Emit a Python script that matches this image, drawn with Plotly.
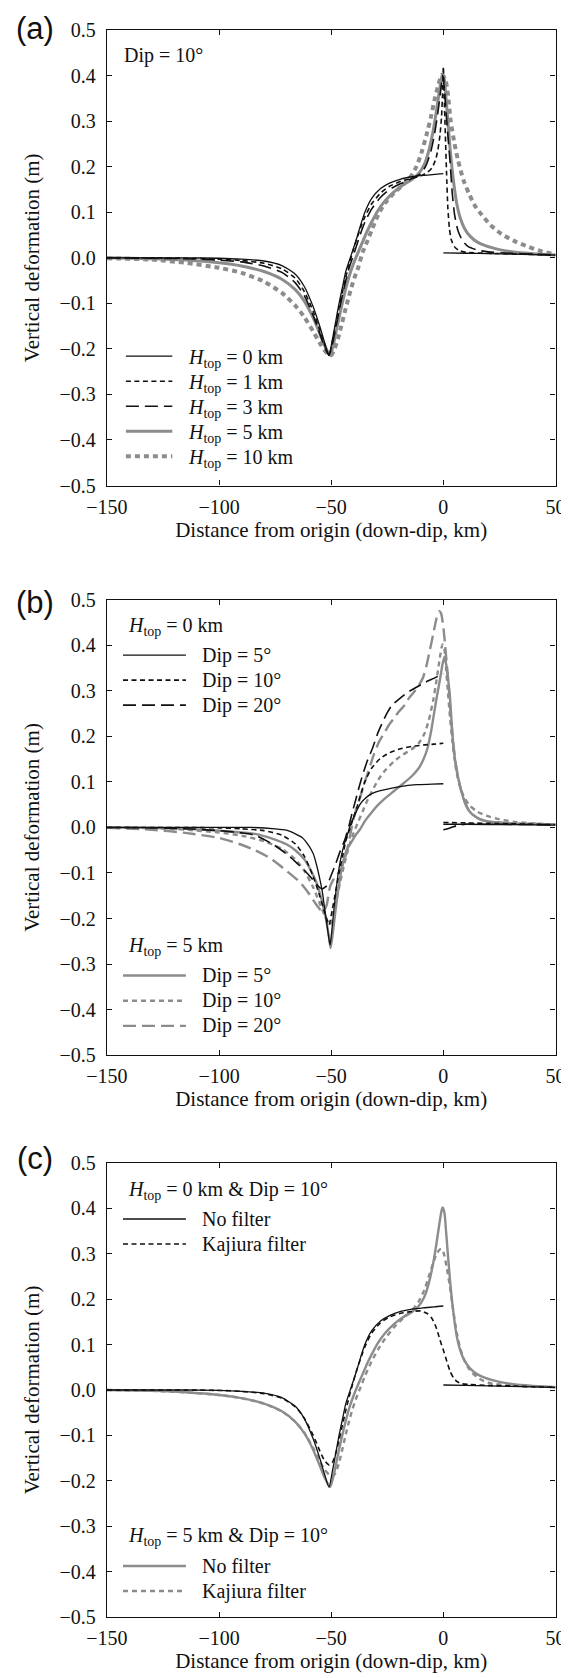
import plotly.graph_objects as go

# ---------------- DATA ----------------
# Panel (a): Dip = 10 deg, various H_top
a_h0_x = [-150, -130, -115, -100, -90, -80, -72, -66, -62, -58, -55, -53, -51, -49.5, -48, -46.5, -45, -43.5, -41.5, -40, -38.5, -37, -35, -32, -28, -24, -19, -14, -9, -4, 0]
a_h0_y = [0, 0, 0, -0.001, -0.003, -0.007, -0.017, -0.036, -0.063, -0.108, -0.152, -0.185, -0.214, -0.18, -0.14, -0.1, -0.065, -0.03, 0.0, 0.022, 0.045, 0.07, 0.1, 0.13, 0.152, 0.164, 0.173, 0.178, 0.181, 0.183, 0.185]
a_h0_xr = [0, 10, 20, 30, 40, 50]
a_h0_yr = [0.011, 0.010, 0.009, 0.008, 0.007, 0.006]

a_h1_x = [-150, -130, -115, -100, -90, -80, -72, -66, -62, -58, -55, -53, -51, -49.5, -48, -46.5, -45, -43.5, -42, -40.5, -39, -37, -35, -32, -28, -24, -19, -14, -10, -7, -5, -3.5, -2.5, -1.5, -0.8, -0.3, 0, 0.4, 0.9, 1.4, 2, 2.7, 3.5, 5, 7, 10, 20, 35, 50]
a_h1_y = [0, 0, -0.001, -0.003, -0.006, -0.012, -0.024, -0.045, -0.074, -0.118, -0.16, -0.19, -0.214, -0.185, -0.148, -0.11, -0.075, -0.042, -0.015, 0.012, 0.035, 0.065, 0.09, 0.118, 0.142, 0.157, 0.168, 0.175, 0.18, 0.188, 0.198, 0.215, 0.235, 0.27, 0.31, 0.37, 0.42, 0.35, 0.27, 0.19, 0.11, 0.065, 0.04, 0.024, 0.016, 0.012, 0.01, 0.008, 0.006]

a_h3_x = [-150, -130, -115, -100, -90, -80, -72, -66, -62, -58, -55, -53, -51, -49.5, -48, -46.5, -45, -43.5, -42, -40.5, -39, -37, -35, -32, -28, -24, -19, -14, -10, -7.5, -5.5, -4, -3, -2, -1, -0.3, 0.5, 1.2, 2, 3, 4, 5, 6.5, 8.5, 11, 15, 20, 30, 40, 50]
a_h3_y = [0, -0.001, -0.002, -0.005, -0.009, -0.018, -0.032, -0.055, -0.083, -0.127, -0.168, -0.195, -0.214, -0.19, -0.155, -0.117, -0.082, -0.05, -0.022, 0.0, 0.022, 0.052, 0.078, 0.107, 0.133, 0.15, 0.163, 0.174, 0.185, 0.205, 0.235, 0.27, 0.3, 0.335, 0.375, 0.4, 0.37, 0.32, 0.27, 0.21, 0.14, 0.095, 0.06, 0.038, 0.025, 0.017, 0.013, 0.01, 0.008, 0.006]

a_h5_x = [-150, -130, -115, -100, -90, -80, -72, -66, -62, -58, -55, -53, -50.5, -49, -47.5, -46, -44.5, -43, -41.5, -40, -38, -36, -34, -32, -29, -26, -22, -18, -14, -11, -8.5, -6.5, -4.5, -3, -1.8, -0.8, -0.3, 0.5, 1.2, 2, 3, 4, 5, 6, 7.5, 9.5, 12, 15, 19, 25, 32, 40, 50]
a_h5_y = [0, -0.002, -0.005, -0.011, -0.018, -0.03, -0.047, -0.07, -0.095, -0.132, -0.168, -0.192, -0.214, -0.19, -0.155, -0.12, -0.088, -0.058, -0.033, -0.012, 0.012, 0.035, 0.058, 0.078, 0.105, 0.125, 0.145, 0.16, 0.172, 0.185, 0.205, 0.235, 0.28, 0.325, 0.365, 0.395, 0.402, 0.39, 0.35, 0.3, 0.24, 0.19, 0.15, 0.118, 0.088, 0.064, 0.047, 0.035, 0.026, 0.018, 0.012, 0.009, 0.006]

a_h10_x = [-150, -130, -115, -100, -90, -80, -72, -66, -62, -58, -55, -53, -51, -50, -48.5, -47, -45.5, -44, -42.5, -41, -39.5, -38, -36, -34, -32, -29, -26, -22, -18, -15, -12, -9.5, -7.5, -5.5, -4, -2.5, -1.3, -0.5, 1, 2, 3.3, 5, 6.5, 9, 11.5, 14, 17, 21, 26, 32, 38, 44, 50]
a_h10_y = [-0.001, -0.004, -0.011, -0.022, -0.033, -0.052, -0.077, -0.105, -0.13, -0.162, -0.188, -0.203, -0.213, -0.214, -0.2, -0.178, -0.15, -0.12, -0.092, -0.065, -0.042, -0.022, 0.012, 0.035, 0.06, 0.095, 0.12, 0.142, 0.16, 0.175, 0.2, 0.235, 0.27, 0.31, 0.345, 0.375, 0.395, 0.402, 0.39, 0.36, 0.3, 0.25, 0.215, 0.17, 0.14, 0.115, 0.095, 0.072, 0.052, 0.036, 0.024, 0.014, 0.007]

# Panel (b): H_top = 0 km (black) and 5 km (gray), Dip = 5, 10, 20
b_d5h0_x = [-150, -100, -85, -75, -70, -66, -63, -60, -58, -56.5, -55, -54, -53, -52, -51, -50.5, -50, -49, -48, -47, -46, -45, -44, -43, -41.5, -40, -38.5, -37, -35, -33, -30, -27, -20, -12, -5, 0]
b_d5h0_y = [0, 0, 0, -0.003, -0.006, -0.014, -0.022, -0.04, -0.058, -0.083, -0.115, -0.14, -0.175, -0.21, -0.245, -0.258, -0.24, -0.19, -0.145, -0.105, -0.075, -0.052, -0.034, -0.02, 0.005, 0.022, 0.038, 0.052, 0.063, 0.071, 0.078, 0.082, 0.089, 0.094, 0.095, 0.096]
b_d5h0_xr = [0, 10, 30, 50]
b_d5h0_yr = [0.007, 0.007, 0.006, 0.005]

b_d20h0_x = [-150, -130, -115, -100, -90, -84, -76, -70, -66, -62, -59, -56, -54, -52, -50, -48, -46, -44, -43, -42, -40.5, -39, -37.5, -36, -34, -31.5, -29, -27, -25, -23, -19, -15.5, -12, -8, -4, 0]
b_d20h0_y = [0, -0.001, -0.003, -0.007, -0.012, -0.017, -0.037, -0.058, -0.075, -0.094, -0.11, -0.128, -0.135, -0.128, -0.105, -0.08, -0.052, -0.028, -0.012, 0.005, 0.035, 0.062, 0.09, 0.115, 0.145, 0.175, 0.21, 0.232, 0.252, 0.268, 0.285, 0.298, 0.308, 0.319, 0.328, 0.338]
b_d20h0_xr = [0, 3, 6, 10, 20, 50]
b_d20h0_yr = [-0.005, -0.001, 0.004, 0.007, 0.007, 0.006]

b_d5h5_x = [-150, -130, -115, -100, -90, -84, -76, -70, -66, -62, -59, -56.5, -54.5, -53, -52, -51, -50.3, -49.5, -48.5, -47.5, -46.5, -45.5, -44.5, -43, -41, -39, -37, -35, -32, -29, -26, -22, -18, -14, -11, -9, -7, -5.5, -4, -2.8, -1.5, -0.5, 0.5, 1.2, 2, 2.8, 3.5, 4.3, 5.3, 6.5, 8, 9.5, 11, 13, 16, 20, 30, 50]
b_d5h5_y = [0, -0.001, -0.003, -0.007, -0.011, -0.014, -0.025, -0.037, -0.05, -0.07, -0.095, -0.122, -0.155, -0.185, -0.21, -0.24, -0.265, -0.24, -0.2, -0.16, -0.125, -0.095, -0.072, -0.048, -0.032, -0.016, -0.003, 0.014, 0.033, 0.05, 0.064, 0.08, 0.096, 0.113, 0.13, 0.148, 0.175, 0.21, 0.255, 0.29, 0.325, 0.355, 0.375, 0.36, 0.33, 0.295, 0.245, 0.19, 0.145, 0.112, 0.08, 0.056, 0.04, 0.028, 0.019, 0.013, 0.009, 0.007]

b_d20h5_x = [-150, -130, -115, -100, -90, -84, -77, -70, -64, -59.5, -57, -55, -53.5, -52, -50.5, -48.5, -46, -44, -42, -40.5, -38.5, -36.8, -35, -33, -31, -28.7, -26, -24.3, -22, -19.9, -17, -15.5, -13, -11, -9, -7.5, -6, -4.5, -3, -1.8, -1, 0, 0.8, 1.5, 2.3, 3.2, 4.2, 5.3, 6.5, 8, 9.5, 11, 13, 16, 20, 30, 50]
b_d20h5_y = [-0.001, -0.005, -0.012, -0.023, -0.038, -0.05, -0.068, -0.095, -0.12, -0.148, -0.167, -0.18, -0.185, -0.17, -0.13, -0.11, -0.095, -0.07, -0.03, 0.01, 0.045, 0.071, 0.1, 0.13, 0.16, 0.188, 0.21, 0.225, 0.24, 0.254, 0.27, 0.283, 0.298, 0.312, 0.33, 0.356, 0.39, 0.425, 0.46, 0.475, 0.47, 0.44, 0.4, 0.36, 0.315, 0.255, 0.195, 0.148, 0.112, 0.08, 0.057, 0.041, 0.029, 0.019, 0.013, 0.009, 0.007]

# Panel (c): Kajiura-filtered curves (unfiltered ones equal panel (a) H0 / H5)
c_kh0_x = [-150, -115, -100, -90, -80, -72, -66, -62, -58, -55, -53, -51, -49.5, -48, -46.5, -45, -43.5, -42, -40.5, -39, -37, -35, -32, -28, -24, -19, -14, -10, -7, -5, -3, -1.5, 0, 1, 2, 3, 4.5, 6, 8, 12, 20, 30, 40, 50]
c_kh0_y = [0, 0, -0.001, -0.003, -0.008, -0.018, -0.037, -0.062, -0.1, -0.135, -0.155, -0.165, -0.16, -0.14, -0.11, -0.077, -0.045, -0.015, 0.012, 0.038, 0.068, 0.095, 0.125, 0.148, 0.161, 0.169, 0.173, 0.174, 0.168, 0.157, 0.135, 0.11, 0.088, 0.072, 0.056, 0.041, 0.027, 0.019, 0.014, 0.012, 0.01, 0.009, 0.007, 0.006]

c_kh5_x = [-150, -130, -115, -100, -90, -80, -72, -66, -62, -58, -55, -53, -51, -49.5, -48, -46.5, -45, -43.5, -42, -40.5, -39, -37, -35, -32, -29, -26, -22, -18, -14, -11, -8.5, -6.5, -4.5, -3, -1.5, -0.5, 0.5, 1.5, 2.7, 4, 5, 6, 7.5, 9.3, 11, 13, 16, 20, 25, 30, 40, 50]
c_kh5_y = [0, -0.002, -0.005, -0.011, -0.018, -0.03, -0.047, -0.07, -0.094, -0.128, -0.158, -0.175, -0.186, -0.19, -0.182, -0.16, -0.13, -0.098, -0.068, -0.042, -0.02, 0.005, 0.03, 0.063, 0.09, 0.113, 0.138, 0.158, 0.175, 0.195, 0.22, 0.25, 0.28, 0.3, 0.31, 0.31, 0.295, 0.27, 0.235, 0.19, 0.155, 0.125, 0.092, 0.066, 0.05, 0.037, 0.025, 0.016, 0.012, 0.01, 0.008, 0.006]

x_ticks = [-150, -100, -50, 0, 50]
y_ticks = [-0.5, -0.4, -0.3, -0.2, -0.1, 0.0, 0.1, 0.2, 0.3, 0.4, 0.5]
panel_labels = ["(a)", "(b)", "(c)"]
x_title = "Distance from origin (down-dip, km)"
y_title = "Vertical deformation (m)"

# ---------------- STYLE / LAYOUT ----------------
W, H = 569, 1678
BLACK = "#111111"
GRAY = "#8c8c8c"
SERIF = "Liberation Serif"
PX_L, PX_R = 98.9, 547.5
PANELS = [(22.1, 477.5), (591.8, 1047.1), (1155.0, 1609.0)]  # top, bottom in px
LABEL_Y = [20.5, 594.0, 1150.0]

def px(xp):
    return xp / W

def py(yp):
    return 1 - yp / H

fig = go.Figure()

def seg(xl, yl, xr=None, yr=None):
    if xr is None:
        return list(xl), list(yl)
    return list(xl) + [None] + list(xr), list(yl) + [None] + list(yr)

STYLES = {
    "k_solid": dict(color=BLACK, width=1.3, dash="solid"),
    "k_short": dict(color=BLACK, width=1.6, dash="5px,3.5px"),
    "k_long": dict(color=BLACK, width=1.6, dash="13px,6px"),
    "g_solid": dict(color=GRAY, width=3.0, dash="solid"),
    "g_dot": dict(color=GRAY, width=4.0, dash="5px,4px"),
    "g_short": dict(color=GRAY, width=2.4, dash="5px,4px"),
    "g_long": dict(color=GRAY, width=2.4, dash="13px,6px"),
    "g_solid_b": dict(color=GRAY, width=2.4, dash="solid"),
}

def add(panel, xs, ys, style):
    suffix = "" if panel == 1 else str(panel)
    fig.add_trace(go.Scatter(x=xs, y=ys, mode="lines", line=dict(shape="spline", smoothing=0.6, **STYLES[style]),
                             xaxis="x" + suffix, yaxis="y" + suffix, showlegend=False, hoverinfo="skip",
                             connectgaps=False))

# Panel a
add(1, a_h10_x, a_h10_y, "g_dot")
add(1, a_h5_x, a_h5_y, "g_solid")
add(1, a_h3_x, a_h3_y, "k_long")
add(1, a_h1_x, a_h1_y, "k_short")
add(1, *seg(a_h0_x, a_h0_y, a_h0_xr, a_h0_yr), "k_solid")

# Panel b
add(2, b_d20h5_x, b_d20h5_y, "g_long")
add(2, a_h5_x, a_h5_y, "g_short")
add(2, b_d5h5_x, b_d5h5_y, "g_solid_b")
add(2, *seg(b_d20h0_x, b_d20h0_y, b_d20h0_xr, b_d20h0_yr), "k_long")
add(2, *seg(a_h0_x, a_h0_y, a_h0_xr, a_h0_yr), "k_short")
add(2, *seg(b_d5h0_x, b_d5h0_y, b_d5h0_xr, b_d5h0_yr), "k_solid")

# Panel c
add(3, c_kh5_x, c_kh5_y, "g_short")
add(3, a_h5_x, a_h5_y, "g_solid_b")
add(3, c_kh0_x, c_kh0_y, "k_short")
add(3, *seg(a_h0_x, a_h0_y, a_h0_xr, a_h0_yr), "k_solid")

layout = dict(width=W, height=H, margin=dict(l=0, r=0, t=0, b=0),
              paper_bgcolor="white", plot_bgcolor="white",
              font=dict(family=SERIF, size=20, color=BLACK))
for i, (top, bot) in enumerate(PANELS, start=1):
    s = "" if i == 1 else str(i)
    layout["xaxis" + s] = dict(domain=[px(PX_L), px(PX_R)], anchor="y" + s, range=[-150, 50],
                               tickmode="array", tickvals=x_ticks, ticks="inside", ticklen=5, tickwidth=1,
                               tickcolor=BLACK, showline=True, linecolor=BLACK, linewidth=1.3, mirror="ticks",
                               showgrid=False, zeroline=False, tickfont=dict(family=SERIF, size=20),
                               ticklabelstandoff=3,
                               title=dict(text=x_title, font=dict(family=SERIF, size=21), standoff=5),
                               automargin=False)
    layout["yaxis" + s] = dict(domain=[py(bot), py(top)], anchor="x" + s, range=[-0.5, 0.5],
                               tickmode="array", tickvals=y_ticks, tickformat=".1f", ticks="inside", ticklen=5,
                               tickwidth=1, tickcolor=BLACK, showline=True, linecolor=BLACK, linewidth=1.3,
                               mirror="ticks", showgrid=False, zeroline=False,
                               tickfont=dict(family=SERIF, size=20), ticklabelstandoff=6,
                               title=dict(text=y_title, font=dict(family=SERIF, size=21), standoff=14),
                               automargin=False)
fig.update_layout(**layout)

annotations = []
shapes = []

def label(x, y, text, size=20, family=SERIF, xanchor="left"):
    annotations.append(dict(x=px(x), y=py(y), xref="paper", yref="paper", text=text, showarrow=False,
                            xanchor=xanchor, yanchor="middle", font=dict(family=family, size=size, color=BLACK)))

def legline(x0, x1, y, style):
    st = STYLES[style]
    shapes.append(dict(type="line", xref="paper", yref="paper", x0=px(x0), x1=px(x1), y0=py(y), y1=py(y),
                       line=dict(color=st["color"], width=st["width"], dash=st["dash"])))

# Panel labels
for ly, lab in zip(LABEL_Y, panel_labels):
    label(27, ly, lab, size=31, family="Liberation Sans", xanchor="center")

HT = "<i>H</i><sub>top</sub>"
# Panel a legend
label(113.6, 47.5, "Dip = 10°")
a_leg = [("k_solid", HT + " = 0 km"), ("k_short", HT + " = 1 km"), ("k_long", HT + " = 3 km"),
         ("g_solid", HT + " = 5 km"), ("g_dot", HT + " = 10 km")]
for k, (st, txt) in enumerate(a_leg):
    yy = 348.2 + 25.0 * k
    legline(117.9, 164.3, yy, st)
    label(177.5, yy + 2, txt)

# Panel b legend
label(117.9, 618.6, HT + " = 0 km")
for k, (st, txt) in enumerate([("k_solid", "Dip = 5°"), ("k_short", "Dip = 10°"), ("k_long", "Dip = 20°")]):
    yy = 647.1 + 25.0 * k
    legline(115.0, 177.9, yy, st)
    label(191.8, yy, txt)
label(117.9, 938.2, HT + " = 5 km")
for k, (st, txt) in enumerate([("g_solid_b", "Dip = 5°"), ("g_short", "Dip = 10°"), ("g_long", "Dip = 20°")]):
    yy = 967.5 + 25.2 * k
    legline(115.0, 177.9, yy, st)
    label(191.8, yy, txt)

# Panel c legend
label(117.9, 1182.0, HT + " = 0 km &amp; Dip = 10°")
for k, (st, txt) in enumerate([("k_solid", "No filter"), ("k_short", "Kajiura filter")]):
    yy = 1211.0 + 25.0 * k
    legline(115.0, 177.9, yy, st)
    label(191.8, yy, txt)
label(117.9, 1528.5, HT + " = 5 km &amp; Dip = 10°")
for k, (st, txt) in enumerate([("g_solid_b", "No filter"), ("g_short", "Kajiura filter")]):
    yy = 1558.0 + 25.0 * k
    legline(115.0, 177.9, yy, st)
    label(191.8, yy, txt)

fig.update_layout(annotations=annotations, shapes=shapes)
fig.write_html("out.html")
